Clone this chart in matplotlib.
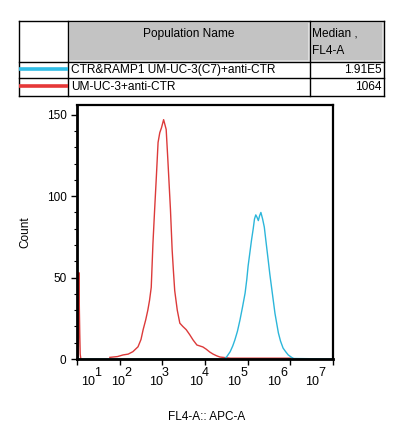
import numpy as np
import matplotlib
matplotlib.use("Agg")
import matplotlib.pyplot as plt
from matplotlib.ticker import FixedLocator, LogLocator, NullFormatter, MultipleLocator
from matplotlib.patches import Rectangle

plt.rcParams['font.family'] = ['Liberation Sans', 'DejaVu Sans']

# population table
pop_names = ["CTR&RAMP1 UM-UC-3(C7)+anti-CTR", "UM-UC-3+anti-CTR"]
medians = ["1.91E5", "1064"]
pop_colors = ["#2fbde6", "#e63838"]
line_colors = ["#2cb6da", "#dc3a3a"]

# histogram data: x in log10(FL4-A), y = count
cyan_log = [1.0, 4.45, 4.51, 4.59, 4.65, 4.70, 4.76, 4.82, 4.88, 4.94, 4.98,
            5.01, 5.05, 5.09, 5.13, 5.16, 5.19, 5.22, 5.25, 5.28, 5.31,
            5.35, 5.39, 5.43, 5.48, 5.52, 5.56, 5.60, 5.64, 5.68, 5.72,
            5.77, 5.83, 5.89, 5.95, 6.03, 6.08, 7.0]
cyan_cnt = [0, 0, 1.4, 4.5, 8, 11.7, 17, 24, 32, 40.5, 49,
            57, 65, 73, 80, 86, 88.5, 87, 85, 88, 90,
            86, 81, 72, 61, 52, 44, 36, 28, 22, 16,
            11, 6.7, 4.5, 2.5, 1, 0.3, 0]

red_spike_log = [1.03, 1.045, 1.055, 1.065, 1.075, 1.09]
red_spike_cnt = [0, 53, 31, 15, 3, 0]

red_log = [1.77, 1.95, 2.08, 2.2, 2.31, 2.43, 2.50, 2.55, 2.61, 2.66, 2.70, 2.74,
           2.78, 2.82, 2.86, 2.90, 2.94, 2.98, 3.03, 3.06, 3.09, 3.13,
           3.16, 3.19, 3.23, 3.26, 3.29, 3.35, 3.41, 3.48, 3.56, 3.64,
           3.72, 3.81, 3.88, 3.95, 4.03, 4.11, 4.19, 4.27,
           4.35, 4.42, 4.6, 5.0, 5.5, 6.0]
red_cnt = [1, 1.5, 2.5, 3, 4.5, 7.5, 12, 18, 24, 30, 36, 44,
           71, 92, 112, 133, 139, 142, 147, 144, 141, 122,
           107, 92, 67, 54, 42, 30, 22, 20, 18, 15,
           11.7, 8.6, 8, 7.4, 6, 4.3, 3, 2,
           1.2, 1, 0.5, 0.5, 0.5, 0.5]

ytick_vals = [0, 50, 100, 150]
decades = [1, 2, 3, 4, 5, 6, 7]

W, H = 397, 441
fig = plt.figure(figsize=(W / 100, H / 100), dpi=100)

# histogram axes, pixel box: left 77, right 333, top 105, bottom 359
ax = fig.add_axes([77 / W, (H - 359) / H, 256 / W, 254 / H])
ax.plot(10 ** np.array(red_log), red_cnt, color=line_colors[1], lw=1.0)
ax.plot(10 ** np.array(cyan_log), cyan_cnt, color=line_colors[0], lw=1.0)
ax.plot(10 ** np.array(red_spike_log), red_spike_cnt, color=line_colors[1], lw=1.0)
ax.set_xscale('log')
ax.set_xlim(10, 1e7)
ax.set_ylim(0, 156)

for s in ax.spines.values():
    s.set_linewidth(1.6)
ax.spines['left'].set_linewidth(2)
ax.spines['bottom'].set_linewidth(2)

ax.yaxis.set_major_locator(FixedLocator(ytick_vals))
ax.yaxis.set_minor_locator(MultipleLocator(10))
ax.tick_params(axis='y', which='major', length=4.5, width=1, labelsize=8.5, pad=3)
ax.tick_params(axis='y', which='minor', length=2.5, width=0.8)
ax.tick_params(axis='x', which='major', length=4.5, width=1)
ax.tick_params(axis='x', which='minor', length=2.5, width=0.8)
ax.xaxis.set_major_locator(FixedLocator([10.0 ** d for d in decades]))
ax.xaxis.set_minor_locator(LogLocator(base=10, subs=np.arange(2, 10)))
ax.xaxis.set_major_formatter(NullFormatter())
ax.xaxis.set_minor_formatter(NullFormatter())

# x tick labels sit at their own spacing, as in the original export
label_px = [88, 118, 156, 196, 234, 274, 312]
for d, px in zip(decades, label_px):
    xf = (px - 77) / 256
    ax.text(xf, -(382 - 359) / 254, "10", transform=ax.transAxes,
            ha='center', va='center', fontsize=9)
    ax.text(xf + 9.5 / 256, -(373.5 - 359) / 254, str(d), transform=ax.transAxes,
            ha='center', va='center', fontsize=9)

ax.set_ylabel("Count", fontsize=8.5)
ax.yaxis.set_label_coords(-0.18, 0.5)
ax.set_xlabel("FL4-A:: APC-A", fontsize=8.5)
ax.xaxis.set_label_coords((207 - 77) / 256, -0.205)

# table drawn in pixel coordinates
tab = fig.add_axes([0, 0, 1, 1])
tab.set_xlim(0, W)
tab.set_ylim(H, 0)
tab.axis('off')
cols = [19, 68, 310, 384]
rows = [21, 62, 78, 96]
for (x0, x1) in [(cols[1], cols[2]), (cols[2], cols[3])]:
    tab.add_patch(Rectangle((x0 + 1, rows[0] + 1), x1 - x0 - 2, rows[1] - rows[0] - 2,
                            facecolor='#c3c3c3', edgecolor='#e4e4e4', lw=1.2))
for y in rows:
    tab.plot([cols[0], cols[3]], [y, y], color='black', lw=1)
for x in cols:
    tab.plot([x, x], [rows[0], rows[3]], color='black', lw=1)

tab.text((cols[1] + cols[2]) / 2, 33.5, "Population Name", ha='center', va='center', fontsize=8.6)
tab.text(cols[2] + 2, 33.5, "Median ,", ha='left', va='center', fontsize=8.6)
tab.text(cols[2] + 2, 51, "FL4-A", ha='left', va='center', fontsize=8.6)
for i, (name, med, c) in enumerate(zip(pop_names, medians, pop_colors)):
    yc = (rows[i + 1] + rows[i + 2]) / 2
    tab.plot([cols[0], cols[1]], [yc - 1, yc - 1], color=c, lw=2.6, solid_capstyle='butt')
    tab.text(cols[1] + 3, yc, name, ha='left', va='center', fontsize=8.6)
    tab.text(cols[3] - 2, yc, med, ha='right', va='center', fontsize=8.6)

fig.savefig("out.png", dpi=100)
